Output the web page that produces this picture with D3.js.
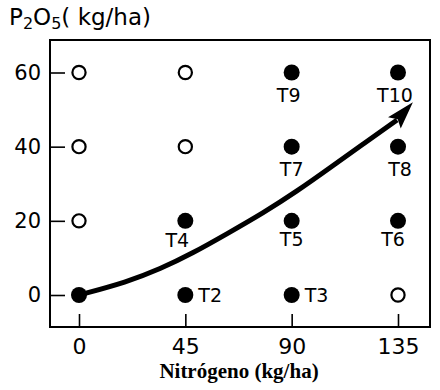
<!DOCTYPE html>
<html>
<head>
<meta charset="utf-8">
<script src="https://cdn.jsdelivr.net/npm/d3@7"></script>
<style>
  body { margin: 0; background: #fff; }
  text { font-family: "DejaVu Sans", sans-serif; fill: #000; }
</style>
</head>
<body>
<div id="chart"></div>
<script>
(function() {
  var w = 440,
      h = 390;

  // axis ticks
  var nitrogen = [0, 45, 90, 135];
  var p2o5 = [0, 20, 40, 60];

  // treatments (filled dots)
  var names = ["T1", "T2", "T3", "T4", "T5", "T6", "T7", "T8", "T9", "T10"];
  var treatN = [0, 45, 90, 45, 90, 135, 90, 135, 90, 135];
  var treatP = [0, 0, 0, 20, 20, 20, 40, 40, 60, 60];

  // combinations not tested (open circles)
  var openN = [0, 0, 0, 45, 45, 135];
  var openP = [20, 40, 60, 40, 60, 0];

  // trend arrow (last point = arrow tip)
  var trendN = [0, 20.3, 34.3, 48.2, 62.6, 77.9, 92.3, 106.2, 120.2, 134.6, 141.3];
  var trendP = [0, 3.5, 7.0, 11.3, 16.5, 22.1, 28.0, 34.3, 40.7, 47.2, 52.0];

  var svg = d3.select("#chart")
    .append("svg")
    .attr("width", w)
    .attr("height", h)

  var x = d3.scaleLinear().domain([0, 135]).range([79, 398])
  var y = d3.scaleLinear().domain([0, 60]).range([295, 72.5])

  // box
  svg.append("rect")
    .attr("x", 50).attr("y", 40)
    .attr("width", 380).attr("height", 287)
    .attr("fill", "none")
    .attr("stroke", "#000")
    .attr("stroke-width", 2)

  var yAxis = svg.append("g")
    .attr("transform", "translate(50,0)")
    .call(d3.axisLeft(y).tickValues(p2o5).tickSize(-15).tickPadding(9))
  yAxis.select(".domain").remove()
  yAxis.selectAll("line").attr("stroke-width", 1.6)
  yAxis.selectAll("text")
    .style("font-family", "DejaVu Sans")
    .style("font-size", "21px")

  var xAxis = svg.append("g")
    .attr("transform", "translate(0,327)")
    .call(d3.axisBottom(x).tickValues(nitrogen).tickSize(-13).tickPadding(11))
  xAxis.select(".domain").remove()
  xAxis.selectAll("line").attr("stroke-width", 1.6)
  xAxis.selectAll("text")
    .style("font-family", "DejaVu Sans")
    .style("font-size", "22px")

  // title of y axis
  var title = svg.append("text")
    .attr("x", 9).attr("y", 25)
    .style("font-size", "23px")
  title.append("tspan").text("P")
  title.append("tspan").attr("dy", 4).style("font-size", "16px").text("2")
  title.append("tspan").attr("dy", -4).text("O")
  title.append("tspan").attr("dy", 4).style("font-size", "16px").text("5")
  title.append("tspan").attr("dy", -4).text("( kg/ha)")

  svg.append("text")
    .attr("x", 239).attr("y", 378)
    .attr("text-anchor", "middle")
    .style("font-family", "Liberation Serif, serif")
    .style("font-weight", "bold")
    .style("font-size", "21px")
    .text("Nitrógeno (kg/ha)")

  var open = openN.map(function(n, i) { return {n: n, p: openP[i]} })
  svg.selectAll(".open")
    .data(open)
    .enter().append("circle")
    .attr("class", "open")
    .attr("cx", function(d) { return x(d.n) })
    .attr("cy", function(d) { return y(d.p) })
    .attr("r", 6.6)
    .attr("fill", "#fff")
    .attr("stroke", "#000")
    .attr("stroke-width", 2.2)

  // trend line + head
  var trend = trendN.map(function(n, i) { return [x(n), y(trendP[i])] })
  var body = trend.slice(0, trend.length - 1)
  svg.append("path")
    .attr("d", d3.line().curve(d3.curveBasis)(body))
    .attr("fill", "none")
    .attr("stroke", "#000")
    .attr("stroke-width", 5)

  var tip = trend[trend.length - 1],
      base = trend[trend.length - 2]
  var ang = Math.atan2(tip[1] - base[1], tip[0] - base[0]) * 180 / Math.PI
  var len = Math.hypot(tip[0] - base[0], tip[1] - base[1])
  svg.append("path")
    .attr("transform", "translate(" + base[0] + "," + base[1] + ") rotate(" + ang + ")")
    .attr("d", "M-4,-8.5L" + len + ",0L-4,8.5L1,0Z")
    .attr("fill", "#000")

  var treats = names.map(function(name, i) {
    return {name: name, n: treatN[i], p: treatP[i]}
  })
  svg.selectAll(".treat")
    .data(treats)
    .enter().append("circle")
    .attr("class", "treat")
    .attr("cx", function(d) { return x(d.n) })
    .attr("cy", function(d) { return y(d.p) })
    .attr("r", 8)
    .attr("fill", "#000")

  // where each label sits relative to its dot
  var place = {
    T2: [13, 7, "start"], T3: [13, 7, "start"],
    T4: [-8, 26, "middle"], T5: [0, 25, "middle"], T6: [-5, 25, "middle"],
    T7: [0, 29, "middle"], T8: [2, 29, "middle"],
    T9: [-3, 29, "middle"], T10: [-3, 29, "middle"]
  }
  svg.selectAll(".lbl")
    .data(treats.filter(function(d) { return place[d.name] }))
    .enter().append("text")
    .attr("class", "lbl")
    .attr("x", function(d) { return x(d.n) + place[d.name][0] })
    .attr("y", function(d) { return y(d.p) + place[d.name][1] })
    .attr("text-anchor", function(d) { return place[d.name][2] })
    .style("font-size", "19px")
    .text(function(d) { return d.name })

})();
</script>
</body>
</html>
